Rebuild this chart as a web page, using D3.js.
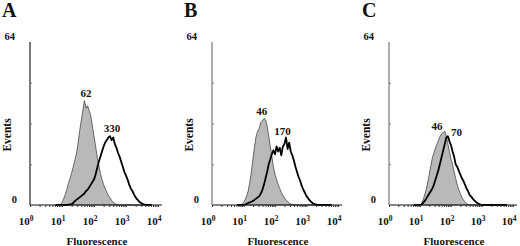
<!DOCTYPE html>
<html>
<head>
<meta charset="utf-8">
<script src="https://cdn.jsdelivr.net/npm/d3@7"></script>
<style>
  body { margin: 0; background: #fff; }
  svg text { font-family: "Liberation Serif", "Times New Roman", serif; font-weight: bold; fill: #111; }
</style>
</head>
<body>
<div class="chart"></div>
<script>
// channel positions (log10 of fluorescence)
var logBins = [0.80, 0.85, 0.90, 0.95, 1.00, 1.05, 1.10, 1.15, 1.20, 1.25,
  1.30, 1.35, 1.40, 1.45, 1.50, 1.55, 1.60, 1.65, 1.70, 1.75,
  1.80, 1.85, 1.90, 1.95, 2.00, 2.05, 2.10, 2.15, 2.20, 2.25,
  2.30, 2.35, 2.40, 2.45, 2.50, 2.55, 2.60, 2.65, 2.70, 2.75,
  2.80, 2.85, 2.90, 2.95, 3.00, 3.05, 3.10, 3.15, 3.20, 3.25,
  3.30, 3.35, 3.40, 3.45, 3.50, 3.55, 3.60, 3.65, 3.70, 3.75, 3.80];

// panel A
var controlA = [0, 0, 0, 0.3, 1, 2.5, 4, 6, 8.5, 10.5,
  12.5, 15, 17.5, 20, 24, 29, 33, 37, 41, 38,
  39, 37, 35, 31, 27, 23, 19, 15.5, 12.5, 10,
  8, 6.5, 5, 3.8, 2.8, 1.8, 1.1, 0.6, 0.3, 0.1,
  0, 0, 0, 0, 0, 0, 0, 0, 0, 0,
  0, 0, 0, 0, 0, 0, 0, 0, 0, 0, 0];
var stainA = [0, 0, 0, 0, 0, 0, 0, 0, 0.1, 0.2,
  0.3, 0.8, 1.5, 2, 2.5, 3, 3.5, 4, 4.5, 5.5,
  6, 7, 8, 9, 10, 12, 14.5, 17, 19, 21,
  23, 24.5, 25.5, 26.5, 27, 25.5, 26.5, 24, 22.5, 20.5,
  19, 17, 15, 13, 11.5, 10, 8, 6.5, 5.5, 4.2,
  3, 2.2, 1.5, 1, 0.6, 0.3, 0.1, 0, 0, 0, 0];

// panel B
var controlB = [0, 0, 0, 0.3, 1, 2, 3.5, 5.5, 9, 13,
  18, 23, 27, 29, 30, 32.5, 33, 34, 33.5, 31,
  27, 23, 19, 15, 12, 10, 8, 6.5, 5, 3.8,
  2.8, 2, 1.3, 0.8, 0.4, 0.2, 0, 0, 0, 0,
  0, 0, 0, 0, 0, 0, 0, 0, 0, 0,
  0, 0, 0, 0, 0, 0, 0, 0, 0, 0, 0];
var stainB = [0, 0, 0, 0, 0, 0.2, 0.5, 0.8, 1, 1.3,
  1.6, 2, 2.5, 3, 3.5, 4.5, 6, 8, 10.5, 13,
  16, 18, 20, 21.5, 20, 23, 21, 22.5, 19.5, 23,
  24, 26.5, 22, 24.5, 21, 19.5, 17.5, 15, 13, 11,
  9.5, 7.5, 6, 4.8, 3.5, 2.7, 1.8, 1.2, 0.7, 0.4,
  0.2, 0, 0, 0, 0, 0, 0, 0, 0, 0, 0];

// panel C
var controlC = [0, 0, 0, 0, 0, 0.5, 2, 4, 6, 9,
  12, 15.5, 18.5, 20.5, 22.5, 24, 25.5, 27, 28, 28.5,
  29, 27, 24, 21, 18, 16, 13, 10.5, 8, 6,
  4.5, 3, 2, 1.2, 0.6, 0.2, 0, 0, 0, 0,
  0, 0, 0, 0, 0, 0, 0, 0, 0, 0,
  0, 0, 0, 0, 0, 0, 0, 0, 0, 0, 0];
var stainC = [0, 0, 0, 0, 0, 0.2, 0.8, 1.5, 2.5, 3.5,
  4.5, 5.5, 6.5, 8, 10, 12, 14, 16.5, 19, 21.5,
  24, 26.5, 27, 25, 23.5, 21, 19, 16, 15, 13.5,
  12, 10.5, 9.5, 8, 6.5, 5.5, 4, 3.3, 2.5, 1.8,
  1.2, 0.8, 0.5, 0.2, 0, 0, 0, 0, 0, 0,
  0, 0, 0, 0, 0, 0, 0, 0, 0, 0, 0];

var panelLetters = ["A", "B", "C"];
var peakLabels = [
  [{ text: "62", logx: 1.75, count: 42.5 }, { text: "330", logx: 2.56, count: 28.5 }],
  [{ text: "46", logx: 1.58, count: 35.5 }, { text: "170", logx: 2.24, count: 27.5 }],
  [{ text: "46", logx: 1.55, count: 29.5 }, { text: "70", logx: 2.18, count: 27 }]
];
var decades = [0, 1, 2, 3, 4];
var yMax = 64;

var w = 520, h = 246;
var baseY = 205, topY = 42;
var panels = [
  { x0: 30, x1: 158, control: controlA, stain: stainA },
  { x0: 212, x1: 338, control: controlB, stain: stainB },
  { x0: 389, x1: 513, control: controlC, stain: stainC }
];

var svg = d3.select(".chart").append("svg")
  .attr("width", w)
  .attr("height", h);

var yScale = d3.scaleLinear().domain([0, yMax]).range([baseY, topY]);

panels.forEach(function(p, i) {
  var xScale = d3.scaleLinear().domain([0, 4]).range([p.x0, p.x1]);
  var g = svg.append("g");

  // gray control histogram
  var area = d3.area()
    .x(function(d, j) { return xScale(logBins[j]); })
    .y0(baseY)
    .y1(function(d) { return yScale(d); });
  g.append("path")
    .datum(p.control)
    .attr("d", area)
    .attr("fill", "#b9b9b9")
    .attr("stroke", "#333")
    .attr("stroke-width", 0.7);

  // open stained histogram
  var line = d3.line()
    .x(function(d, j) { return xScale(logBins[j]); })
    .y(function(d) { return yScale(d); });
  g.append("path")
    .datum(p.stain)
    .attr("d", line)
    .attr("fill", "none")
    .attr("stroke", "#000")
    .attr("stroke-width", 1.8)
    .attr("stroke-linejoin", "round");

  // x axis with log minor ticks
  var minor = [];
  decades.slice(0, 4).forEach(function(k) {
    [2, 3, 4, 5, 6, 7, 8, 9].forEach(function(m) { minor.push(k + Math.log10(m)); });
  });
  var xAxis = d3.axisBottom(xScale).tickValues(decades.concat(minor)).tickSize(2).tickFormat("");
  var gx = g.append("g")
    .attr("transform", "translate(0," + baseY + ")")
    .call(xAxis);
  gx.select(".domain").attr("stroke", "#111").attr("stroke-width", 1.2).attr("d", "M" + p.x0 + ",0H" + (p.x1 + 4));
  gx.selectAll(".tick line").attr("stroke", "#333");

  // y axis
  var yAxis = d3.axisRight(yScale).tickValues([16, 32, 48]).tickSize(2).tickFormat("");
  var gy = g.append("g")
    .attr("transform", "translate(" + p.x0 + ",0)")
    .call(yAxis);
  gy.select(".domain").attr("stroke", i === 0 ? "#222" : "#777").attr("stroke-width", 1.2).attr("d", "M0," + topY + "V" + baseY);
  gy.selectAll(".tick line").attr("stroke", "#777");

  // tick labels 10^k
  decades.forEach(function(k) {
    var t = g.append("text")
      .attr("x", xScale(k) - 4)
      .attr("y", 225)
      .attr("text-anchor", "middle")
      .style("font-size", "11px");
    t.append("tspan").text("10");
    t.append("tspan").attr("dy", -4).style("font-size", "7.5px").text(k);
  });

  g.append("text")
    .attr("x", p.x0 - 15)
    .attr("y", yScale(yMax) - 2)
    .attr("text-anchor", "end")
    .style("font-size", "10.5px")
    .text(yMax);
  g.append("text")
    .attr("x", p.x0 - 13)
    .attr("y", baseY - 2)
    .attr("text-anchor", "end")
    .style("font-size", "10.5px")
    .text("0");

  // axis titles
  g.append("text")
    .attr("transform", "translate(" + (p.x0 - 19) + "," + 135 + ") rotate(-90)")
    .attr("text-anchor", "middle")
    .style("font-size", "11.5px")
    .text("Events");
  g.append("text")
    .attr("x", (p.x0 + p.x1) / 2 + 3)
    .attr("y", 245)
    .attr("text-anchor", "middle")
    .style("font-size", "11px")
    .text("Fluorescence");

  // panel letter
  g.append("text")
    .attr("x", p.x0 - (i === 2 ? 27 : 28))
    .attr("y", 17)
    .style("font-size", "20px")
    .text(panelLetters[i]);

  // peak annotations
  peakLabels[i].forEach(function(l) {
    g.append("text")
      .attr("x", xScale(l.logx))
      .attr("y", yScale(l.count))
      .attr("text-anchor", "middle")
      .style("font-size", "11px")
      .text(l.text);
  });
});
</script>
</body>
</html>
